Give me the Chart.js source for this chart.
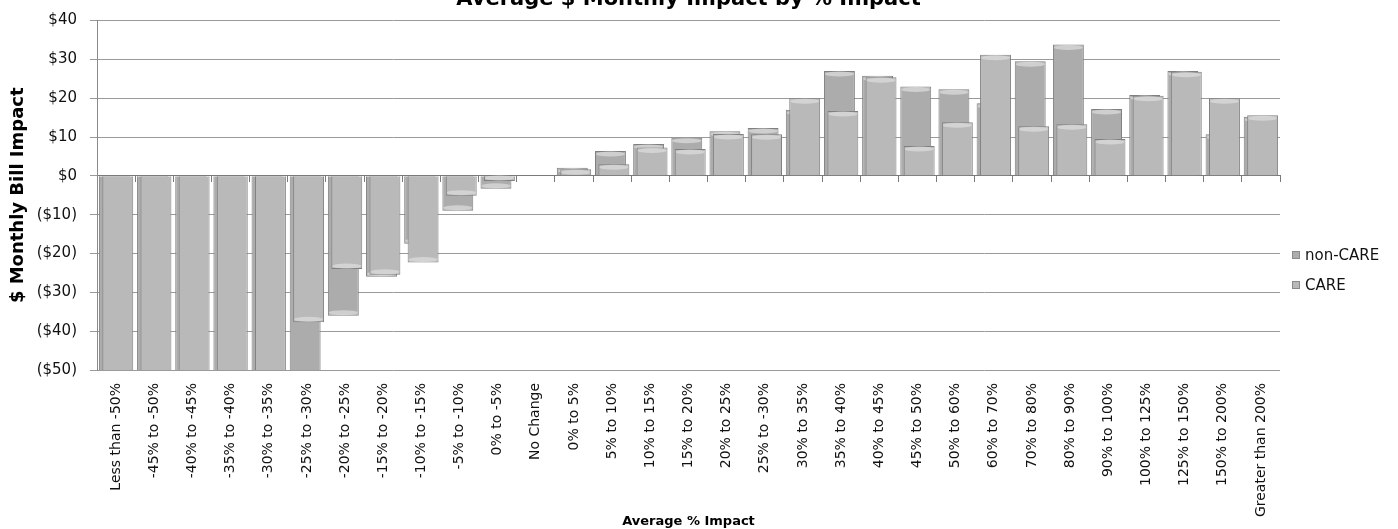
<!DOCTYPE html>
<html>
<head>
<meta charset="utf-8">
<script src="https://cdn.jsdelivr.net/npm/chart.js@4/dist/chart.umd.min.js"></script>
<style>
  html, body { margin: 0; padding: 0; background: #fff; }
  #wrap { position: relative; width: 1398px; height: 529px; overflow: hidden; }
  #chartBox { position: absolute; left: 0; top: 0; width: 1398px; height: 529px; }
  .legend { position: absolute; left: 1292px; top: 240px; font: 15px "DejaVu Sans", sans-serif; color: #111; }
  .legend .row { display: flex; align-items: center; height: 30px; }
  .legend .sw { width: 8px; height: 8px; margin-right: 5px; border: 1px solid #8a8a8a; box-sizing: border-box; }
</style>
</head>
<body>
<div id="wrap">
  <div id="chartBox"><canvas id="c"></canvas></div>
  <div class="legend" id="legend"></div>
</div>
<script>
// Impact bands
const categories = [
  'Less than -50%', '-45% to -50%', '-40% to -45%', '-35% to -40%', '-30% to -35%',
  '-25% to -30%', '-20% to -25%', '-15% to -20%', '-10% to -15%', '-5% to -10%',
  '0% to -5%', 'No Change', '0% to 5%', '5% to 10%', '10% to 15%', '15% to 20%',
  '20% to 25%', '25% to -30%', '30% to 35%', '35% to 40%', '40% to 45%', '45% to 50%',
  '50% to 60%', '60% to 70%', '70% to 80%', '80% to 90%', '90% to 100%',
  '100% to 125%', '125% to 150%', '150% to 200%', 'Greater than 200%'
];

// Average monthly bill impact ($) per band
const nonCareValues = [
  -72, -68, -63, -58, -53, -56, -36, -26, -17.5, -9,
  -3.3, 0, 2.1, 6.4, 8.2, 9.8, 11.5, 12.3, 17, 27,
  25.8, 23, 22.3, 18.7, 29.5, 33.8, 17.2, 20.8, 27, 10.7, 15.2
];
const careValues = [
  -66, -61, -57, -54, -52, -37.7, -24, -25.5, -22.3, -5.1,
  -1.3, 0, 1.7, 3.0, 7.3, 6.9, 10.8, 10.7, 20, 16.7,
  25.4, 7.7, 13.8, 31.2, 12.8, 13.3, 9.5, 20.6, 26.8, 20, 15.6
];

const seriesNames = ['non-CARE', 'CARE'];
const seriesColors = ['#acacac', '#b9b9b9'];

const yMin = -50, yMax = 40, yStep = 10;

function money(v) {
  return v < 0 ? '($' + Math.abs(v) + ')' : '$' + v;
}

// Series are drawn back to front: non-CARE first, CARE over it,
// each bar finished with a soft light cap at its end.
const backToFront = {
  id: 'backToFront',
  beforeDatasetsDraw(chart) {
    const ctx = chart.ctx;
    const a = chart.chartArea;
    ctx.save();
    ctx.beginPath();
    ctx.rect(a.left, a.top, a.right - a.left, a.bottom - a.top);
    ctx.clip();
    [0, 1].forEach(i => {
      const meta = chart.getDatasetMeta(i);
      meta.controller.draw();
      meta.data.forEach(bar => {
        const p = bar.getProps(['x', 'y', 'base', 'width'], true);
        if (Math.abs(p.base - p.y) < 2) return;
        const dir = p.base > p.y ? 1 : -1;
        ctx.beginPath();
        ctx.ellipse(p.x, p.y + dir * 3, p.width / 2 - 1, 2.5, 0, 0, Math.PI * 2);
        ctx.fillStyle = 'rgba(222,222,222,0.7)';
        ctx.fill();
      });
    });
    ctx.restore();
    return false;
  }
};

const fontFamily = '"DejaVu Sans", sans-serif';

new Chart(document.getElementById('c'), {
  type: 'bar',
  data: {
    labels: categories,
    datasets: [
      { label: seriesNames[0], data: nonCareValues, backgroundColor: seriesColors[0],
        borderColor: '#808080', borderWidth: 1 },
      { label: seriesNames[1], data: careValues, backgroundColor: seriesColors[1],
        borderColor: '#808080', borderWidth: 1 }
    ]
  },
  options: {
    responsive: true,
    maintainAspectRatio: false,
    animation: false,
    devicePixelRatio: 1,
    categoryPercentage: 0.18,
    barPercentage: 9.0,
    layout: { padding: { left: 0, right: 118, top: 0, bottom: 0 } },
    plugins: {
      legend: { display: false },
      tooltip: { enabled: false },
      title: {
        display: true,
        fullSize: false,
        text: 'Average $ Monthly Impact by % Impact',
        color: '#000',
        font: { family: fontFamily, size: 21, weight: 'bold' },
        padding: { top: -14.6, bottom: 8.4 }
      }
    },
    scales: {
      x: {
        type: 'category',
        position: 'bottom',
        offset: true,
        grid: { display: false, drawTicks: false },
        border: { display: false },
        ticks: {
          autoSkip: false,
          maxRotation: 90,
          minRotation: 90,
          padding: 13,
          color: '#111',
          font: { family: fontFamily, size: 14 }
        },
        title: {
          display: true,
          text: 'Average % Impact',
          color: '#000',
          font: { family: fontFamily, size: 13, weight: 'bold' },
          padding: { top: 0, bottom: 0 }
        },
        afterFit(scale) { scale.height = 159; }
      },
      xZero: {
        type: 'category',
        position: { y: 0 },
        offset: true,
        grid: { offset: true, drawOnChartArea: false, drawTicks: true, tickLength: 6, color: '#7a7a7a' },
        border: { display: true, color: '#7a7a7a', width: 1 },
        ticks: { display: false }
      },
      y: {
        min: yMin,
        max: yMax,
        ticks: {
          stepSize: yStep,
          padding: 13,
          color: '#111',
          font: { family: fontFamily, size: 15, lineHeight: 1 },
          callback: v => money(v)
        },
        grid: { color: '#9a9a9a', tickLength: 7 },
        border: { display: true, color: '#8a8a8a' },
        title: {
          display: true,
          text: '$ Monthly Bill Impact',
          color: '#000',
          font: { family: fontFamily, size: 18, weight: 'bold' },
          padding: { top: 8, bottom: 0 }
        },
        afterFit(scale) { scale.width = 97; }
      }
    }
  },
  plugins: [backToFront]
});

// Legend
const legend = document.getElementById('legend');
seriesNames.forEach((name, i) => {
  const row = document.createElement('div');
  row.className = 'row';
  const sw = document.createElement('span');
  sw.className = 'sw';
  sw.style.background = seriesColors[i];
  const tx = document.createElement('span');
  tx.textContent = name;
  row.appendChild(sw);
  row.appendChild(tx);
  legend.appendChild(row);
});
</script>
</body>
</html>
